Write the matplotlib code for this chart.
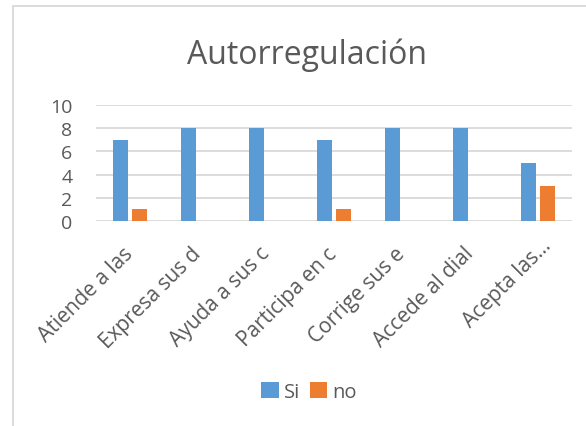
import matplotlib
matplotlib.use("Agg")
import matplotlib.pyplot as plt
import matplotlib.transforms as mtransforms
from matplotlib.patches import Rectangle
import numpy as np

categorias = ["Atiende a las", "Expresa sus d", "Ayuda a sus c", "Participa en c",
              "Corrige sus e", "Accede al dial", "Acepta las…"]
si = [7, 8, 8, 7, 8, 8, 5]
no = [1, 0, 0, 1, 0, 0, 3]
series = ["Si", "no"]

AZUL = "#5B9BD5"
NARANJA = "#ED7D31"
GRIS_TXT = "#595959"
GRIS_LIN = "#D9D9D9"

plt.rcParams["font.family"] = ["Open Sans", "DejaVu Sans"]


def main():
    fig = plt.figure(figsize=(5.86, 4.27), dpi=100)
    # marco del gráfico
    fig.patches.append(Rectangle((13/586, -0.1), 1.2, 1.1 - 7/427, transform=fig.transFigure,
                                 fill=False, edgecolor=GRIS_LIN, linewidth=1.3))
    ax = fig.add_axes([96/586, 1-222/427, (572-96)/586, (222-106)/427])
    x = np.arange(len(categorias))
    w = 0.22
    ax.bar(x - 0.145, si, w, color=AZUL, label=series[0], zorder=3)
    ax.bar(x + 0.145, no, w, color=NARANJA, label=series[1], zorder=3)

    ax.set_xlim(-0.5, len(categorias) - 0.5)
    ax.set_ylim(0, 10)
    ax.set_yticks(range(0, 11, 2))
    ax.yaxis.grid(True, color=GRIS_LIN, linewidth=1.3, zorder=0)
    for s in ax.spines.values():
        s.set_visible(False)
    ax.tick_params(axis="both", length=0, colors=GRIS_TXT, labelsize=14)
    ax.tick_params(axis="y", pad=17)
    ax.set_xticks(x)
    ax.set_xticklabels(categorias, rotation=45, ha="right", va="center",
                       rotation_mode="anchor", fontsize=15)
    ax.tick_params(axis="x", pad=21)
    # la etiqueta recortada queda algo más a la derecha en el original
    ult = ax.get_xticklabels()[-1]
    ult.set_transform(ult.get_transform() +
                      mtransforms.ScaledTranslation(10/100, 8/100, fig.dpi_scale_trans))

    fig.text(307/586, 1-55/427, "Autorregulación", ha="center", va="center",
             fontsize=23, color=GRIS_TXT)

    ax.legend(loc="center", bbox_to_anchor=(309/586, 1-393/427),
              bbox_transform=fig.transFigure, ncol=2, frameon=False,
              handlelength=0.85, handleheight=0.85, handletextpad=0.25,
              columnspacing=0.5, fontsize=14.5, labelcolor=GRIS_TXT)

    fig.savefig("out.png", dpi=100)
    plt.close(fig)


if __name__ == "__main__":
    main()
